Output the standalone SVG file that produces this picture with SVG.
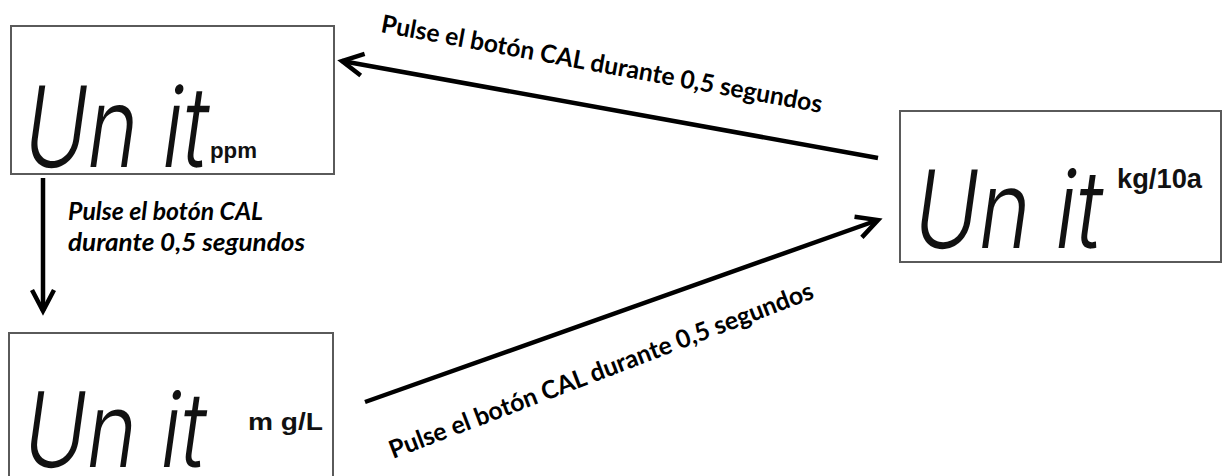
<svg xmlns="http://www.w3.org/2000/svg" width="1223" height="476" viewBox="0 0 1223 476">
  <style>
    .box { fill: #ffffff; stroke: #5a5a5a; stroke-width: 2; }
    .lcd { font-family: Inter, "DejaVu Sans", sans-serif; font-weight: 350; fill: #111111; }
    .unit { font-family: "Liberation Sans", Arial, sans-serif; font-weight: bold; fill: #111111; }
    .conn { stroke: #000000; stroke-width: 4.5; fill: none; }
    .lbl { font-family: Lato, "Open Sans", sans-serif; font-weight: bold; font-size: 25px; fill: #000000; }
    .lbli { font-family: Lato, "Open Sans", sans-serif; font-weight: bold; font-style: italic; font-size: 24px; fill: #000000; }
  </style>
  <defs>
    <marker id="arrow" markerUnits="userSpaceOnUse" orient="auto" refX="0" refY="0" overflow="visible" markerWidth="30" markerHeight="30">
      <path d="M-21,-11 L0,0 L-21,11" fill="none" stroke="#000000" stroke-width="4.5" stroke-linejoin="miter"/>
    </marker>
  </defs>
  <rect width="1223" height="476" fill="#ffffff"/>

  <g id="node-ppm">
    <rect class="box" x="11" y="26" width="323" height="148"/>
    <text class="lcd" font-size="112" textLength="184" lengthAdjust="spacingAndGlyphs" transform="translate(20,167) skewX(-8)">Un it</text>
    <text class="unit" x="210" y="158" font-size="22" textLength="47" lengthAdjust="spacingAndGlyphs">ppm</text>
  </g>

  <g id="node-mgl">
    <rect class="box" x="9" y="333" width="324" height="160"/>
    <text class="lcd" font-size="104" textLength="182" lengthAdjust="spacingAndGlyphs" transform="translate(20,467) skewX(-8)">Un it</text>
    <text class="unit" x="248" y="430" font-size="24" textLength="75" lengthAdjust="spacingAndGlyphs">m g/L</text>
  </g>

  <g id="node-kg10a">
    <rect class="box" x="900" y="111" width="321" height="151"/>
    <text class="lcd" font-size="108" textLength="188" lengthAdjust="spacingAndGlyphs" transform="translate(910,248) skewX(-8)">Un it</text>
    <text class="unit" x="1117" y="188" font-size="27" textLength="85" lengthAdjust="spacingAndGlyphs">kg/10a</text>
  </g>

  <g id="connectors">
    <line class="conn" x1="43" y1="178" x2="43" y2="311" marker-end="url(#arrow)"/>
    <line class="conn" x1="878" y1="158" x2="342" y2="61" marker-end="url(#arrow)"/>
    <line class="conn" x1="365" y1="402" x2="878" y2="220" marker-end="url(#arrow)"/>
  </g>

  <g id="labels">
    <text class="lbli" x="68" y="220" textLength="195" lengthAdjust="spacingAndGlyphs">Pulse el botón CAL</text>
    <text class="lbli" x="68" y="251" textLength="237" lengthAdjust="spacingAndGlyphs">durante 0,5 segundos</text>
    <text class="lbl" transform="translate(380,32) rotate(10.4)" textLength="448" lengthAdjust="spacingAndGlyphs">Pulse el botón CAL durante 0,5 segundos</text>
    <text class="lbl" transform="translate(393,459) rotate(-20.9)" textLength="452" lengthAdjust="spacingAndGlyphs">Pulse el botón CAL durante 0,5 segundos</text>
  </g>
</svg>
